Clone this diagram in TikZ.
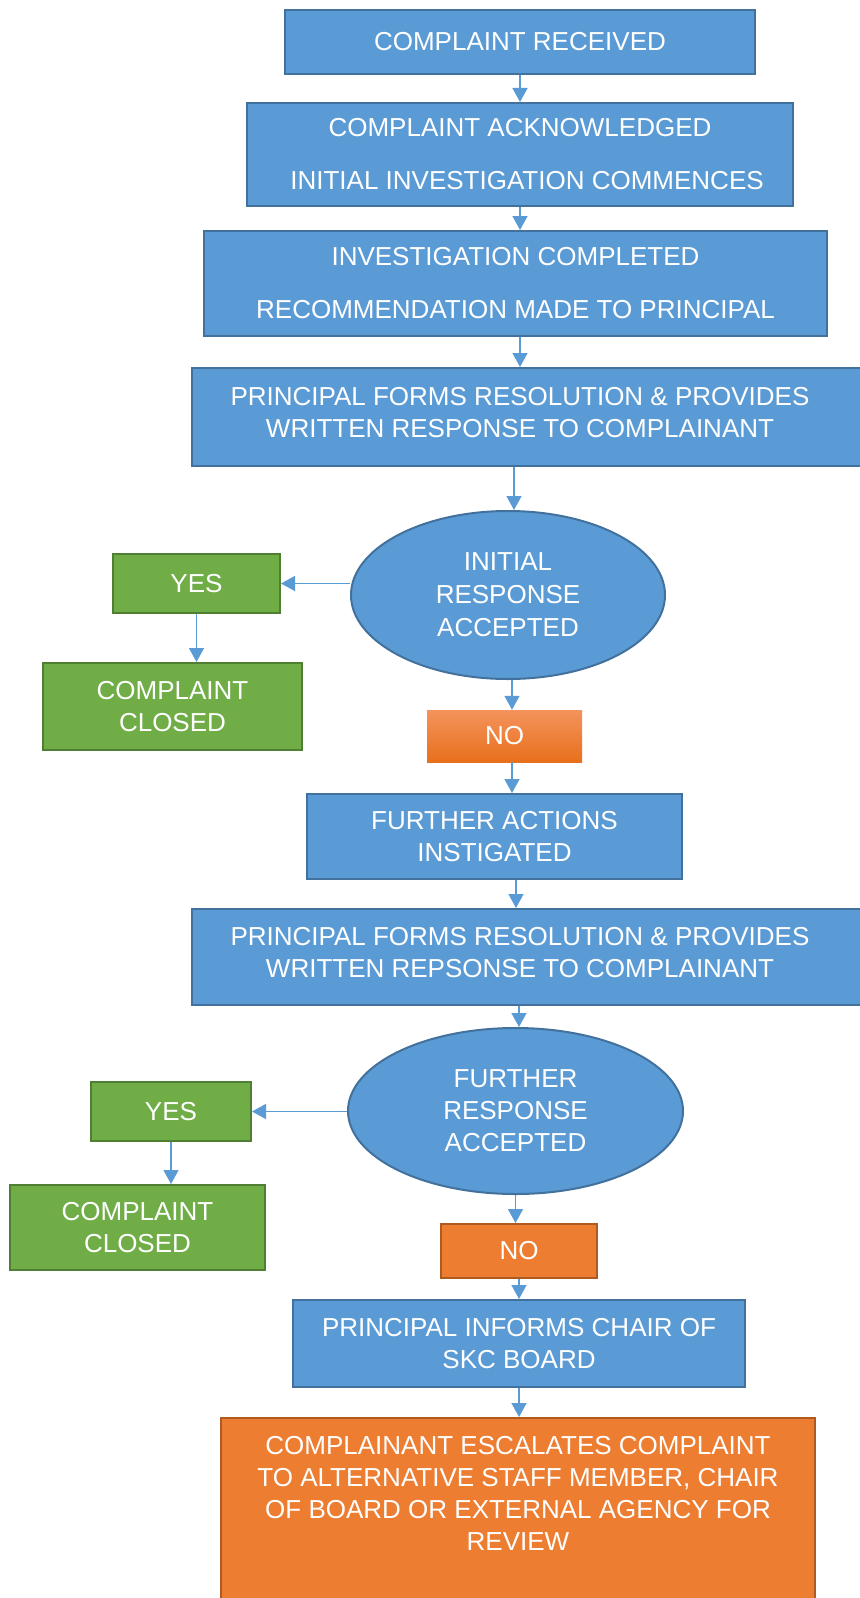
\documentclass[tikz,border=0pt]{standalone}
\usepackage{fontspec}
\setmainfont{Liberation Sans}
\usetikzlibrary{shapes.geometric}
\usetikzlibrary{arrows.meta}

\definecolor{boxblue}{HTML}{5B9BD5}
\definecolor{blueline}{HTML}{41719C}
\definecolor{boxgreen}{HTML}{70AD47}
\definecolor{greenline}{HTML}{507E32}
\definecolor{boxorange}{HTML}{ED7D31}
\definecolor{orangeline}{HTML}{AE5A21}
\definecolor{notop}{HTML}{F4935C}
\definecolor{nobottom}{HTML}{E8701C}

\begin{document}
\begin{tikzpicture}
[x=1bp,y=-1bp,%
  every node/.style={inner sep=0bp,text=white,align=center,%
    font=\fontsize{26bp}{32bp}\selectfont},%
  bluebox/.style={rectangle,draw=blueline,fill=boxblue,line width=2bp},%
  greenbox/.style={rectangle,draw=greenline,fill=boxgreen,line width=2bp},%
  orangebox/.style={rectangle,draw=orangeline,fill=boxorange,line width=2bp},%
  choice/.style={ellipse,draw=blueline,fill=boxblue,line width=2bp},%
  arr/.style={-{Triangle[length=14bp,width=15bp]},draw=boxblue,line width=1.5bp}]
\useasboundingbox (0,0) rectangle (859,1598);

\node[bluebox,minimum width=470bp,minimum height=64bp] (rec) at (520,42)
  {COMPLAINT RECEIVED};
\node[bluebox,minimum width=546bp,minimum height=103bp] (ack) at (520,154.5)
  {COMPLAINT ACKNOWLEDGED\\[21bp]\hspace*{14bp}INITIAL INVESTIGATION COMMENCES};
\node[bluebox,minimum width=623bp,minimum height=105bp] (inv) at (515.5,283.5)
  {INVESTIGATION COMPLETED\\[21bp]RECOMMENDATION MADE TO PRINCIPAL};
\node[bluebox,minimum width=680bp,minimum height=98bp,%
  label={[xshift=-12bp,yshift=4bp]center:{PRINCIPAL FORMS RESOLUTION \& PROVIDES\\
    WRITTEN RESPONSE TO COMPLAINANT}}] (res1) at (532,417) {};
\node[choice,minimum width=314bp,minimum height=168bp] (acc1) at (508,595)
  {INITIAL\\[1bp]RESPONSE\\[1bp]ACCEPTED};
\node[greenbox,minimum width=167bp,minimum height=59bp] (yes1) at (196.5,583.5)
  {YES};
\node[greenbox,minimum width=259bp,minimum height=87bp] (closed1) at (172.5,706.5)
  {COMPLAINT\\CLOSED};
\node[rectangle,top color=notop,bottom color=nobottom,draw=none,%
  minimum width=155bp,minimum height=52bp] (no1) at (504.5,736) {NO};
\node[bluebox,minimum width=375bp,minimum height=85bp] (act) at (494.5,836.5)
  {FURTHER ACTIONS\\INSTIGATED};
\node[bluebox,minimum width=680bp,minimum height=96bp,%
  label={[xshift=-12bp,yshift=4bp]center:{PRINCIPAL FORMS RESOLUTION \& PROVIDES\\
    WRITTEN REPSONSE TO COMPLAINANT}}] (res2) at (532,957) {};
\node[choice,minimum width=335bp,minimum height=166bp] (acc2) at (515.5,1111)
  {FURTHER\\RESPONSE\\ACCEPTED};
\node[greenbox,minimum width=160bp,minimum height=59bp] (yes2) at (171,1111.5)
  {YES};
\node[greenbox,minimum width=255bp,minimum height=85bp] (closed2) at (137.5,1227.5)
  {COMPLAINT\\CLOSED};
\node[orangebox,minimum width=156bp,minimum height=54bp] (no2) at (519,1251)
  {NO};
\node[bluebox,minimum width=452bp,minimum height=87bp] (chair) at (519,1343.5)
  {PRINCIPAL INFORMS CHAIR OF\\SKC BOARD};
\node[orangebox,minimum width=594bp,minimum height=200bp,anchor=north,%
  label={[anchor=north,yshift=-19bp]north:{COMPLAINANT ESCALATES COMPLAINT\\
   TO ALTERNATIVE STAFF MEMBER, CHAIR\\
   OF BOARD OR EXTERNAL AGENCY FOR\\
   REVIEW}}] (esc) at (518,1417) {};

% connectors
\draw[arr] (rec.south) -- (rec.south |- ack.north);
\draw[arr] (ack.south) -- (ack.south |- inv.north);
\draw[arr] ([xshift=4.5bp]inv.south) -- ([xshift=4.5bp]inv.south |- res1.north);
\draw[arr] ([xshift=-18bp]res1.south) -- ([xshift=-18bp]res1.south |- acc1.north);
\draw[arr] (acc1.west |- yes1.east) -- (yes1.east);
\draw[arr] (yes1.south) -- (yes1.south |- closed1.north);
\draw[arr] ([xshift=4bp]acc1.south) -- ([xshift=4bp]acc1.south |- no1.north);
\draw[arr] ([xshift=7.5bp]no1.south) -- ([xshift=7.5bp]no1.south |- act.north);
\draw[arr] ([xshift=21.5bp]act.south) -- ([xshift=21.5bp]act.south |- res2.north);
\draw[arr] ([xshift=-13bp]res2.south) -- ([xshift=-13bp]res2.south |- acc2.north);
\draw[arr] (acc2.west |- yes2.east) -- (yes2.east);
\draw[arr] (yes2.south) -- (yes2.south |- closed2.north);
\draw[arr] (acc2.south) -- (acc2.south |- no2.north);
\draw[arr] (no2.south) -- (no2.south |- chair.north);
\draw[arr] (chair.south) -- (chair.south |- esc.north);
\end{tikzpicture}
\end{document}
